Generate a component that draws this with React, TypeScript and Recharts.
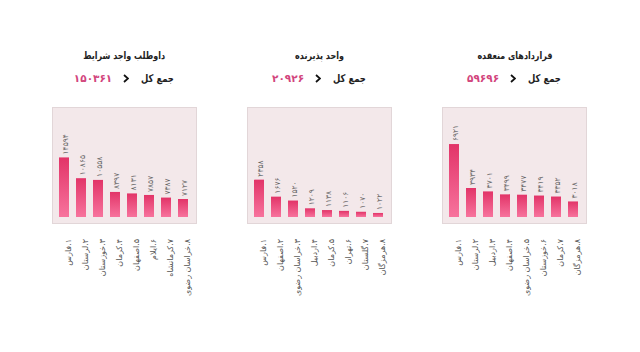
import React from 'react';
import { BarChart, Bar, XAxis, YAxis, LabelList } from 'recharts';

const contractCats = ['۱.فارس', '۲.لرستان', '۳.اردبیل', '۴.اصفهان', '۵.خراسان رضوی', '۶.خوزستان', '۷.کرمان', '۸.هرمزگان'];
const contractValues = [6921, 3934, 3701, 3499, 3477, 3419, 3352, 3018];

const hostCats = ['۱.فارس', '۲.اصفهان', '۳.خراسان رضوی', '۴.اردبیل', '۵.کرمان', '۶.تهران', '۷.گلستان', '۸.هرمزگان'];
const hostValues = [2358, 1676, 1520, 1209, 1138, 1106, 1070, 1022];

const applicantCats = ['۱.فارس', '۲.لرستان', '۳.خوزستان', '۴.کرمان', '۵.اصفهان', '۶.ایلام', '۷.کرمانشاه', '۸.خراسان رضوی'];
const applicantValues = [14594, 10865, 10558, 8397, 8131, 7857, 7387, 7127];

const titles = ['داوطلب واجد شرایط', 'واحد پذیرنده', 'قراردادهای منعقده'];
const totals = [150361, 20926, 59696];

const FONT = '"DejaVu Sans", sans-serif';

const fa = (n: number) => String(n).replace(/\d/g, (d) => '۰۱۲۳۴۵۶۷۸۹'[+d]);

const CatTick = (props: any) => {
  const { x, y, payload } = props;
  return (
    <text
      transform={`translate(${x + 5},${y + 20}) rotate(-90)`}
      direction="rtl"
      textAnchor="start"
      dominantBaseline="central"
      fontSize={8}
      fill="#555"
      fontFamily={FONT}
    >
      {payload.value}
    </text>
  );
};

const ValueLabel = (props: any) => {
  const { x, y, width, value } = props;
  return (
    <text
      transform={`translate(${x + width / 2 + 1},${y - 3}) rotate(-90)`}
      textAnchor="start"
      dominantBaseline="central"
      fontSize={7.5}
      fill="#666"
      fontFamily={FONT}
      letterSpacing={0.8}
    >
      {fa(value)}
    </text>
  );
};

const squeeze = { display: 'inline-block', transform: 'scaleX(0.8)' };

function Panel({ left, title, total, cats, values, domain, id }: any) {
  const data = cats.map((c: string, i: number) => ({ name: c, value: values[i] }));
  return (
    <div style={{ position: 'absolute', left, top: 0, width: 145, height: 352 }}>
      <div
        style={{
          position: 'absolute', left: -30, width: 205, top: 50, textAlign: 'center',
          fontFamily: FONT, fontWeight: 'bold', fontSize: 10, color: '#222', direction: 'rtl',
        }}
      >
        <span style={squeeze}>{title}</span>
      </div>
      <div
        style={{
          position: 'absolute', left: -30, width: 205, top: 72, display: 'flex', justifyContent: 'center',
          alignItems: 'center', gap: 11, direction: 'rtl', fontFamily: FONT, fontSize: 10.5, fontWeight: 'bold',
        }}
      >
        <span style={{ ...squeeze, color: '#222', margin: '0 -3px' }}>جمع کل</span>
        <svg width={6} height={9}>
          <path d="M1 1 L5 4.5 L1 8" stroke="#111" strokeWidth={1.8} fill="none" />
        </svg>
        <span style={{ color: '#d2457d', letterSpacing: 0.5 }}>{fa(total)}</span>
      </div>
      <div
        style={{
          position: 'absolute', left: 0, top: 107, width: 145, height: 117, boxSizing: 'border-box',
          background: '#f3e8ea', border: '1px solid #e2d6d8',
        }}
      />
      <div style={{ position: 'absolute', left: 0, top: 100 }}>
        <BarChart width={145} height={210} data={data} margin={{ top: 7, right: 6, bottom: 0, left: 3 }}>
          <defs>
            <linearGradient id={id} x1="0" y1="0" x2="0" y2="1">
              <stop offset="0%" stopColor="#e23468" />
              <stop offset="100%" stopColor="#f7739d" />
            </linearGradient>
          </defs>
          <XAxis dataKey="name" axisLine={false} tickLine={false} tickSize={0} interval={0} height={93} tick={<CatTick />} />
          <YAxis hide domain={domain} allowDataOverflow />
          <Bar dataKey="value" fill={`url(#${id})`} barSize={10} isAnimationActive={false}>
            <LabelList dataKey="value" content={<ValueLabel />} />
          </Bar>
        </BarChart>
      </div>
    </div>
  );
}

export default function App() {
  return (
    <div style={{ position: 'absolute', left: 0, top: 0, width: 640, height: 352, background: '#fff' }}>
      <Panel left={52} title={titles[0]} total={totals[0]} cats={applicantCats} values={applicantValues} domain={[3900, 23640]} id="g1" />
      <Panel left={247} title={titles[1]} total={totals[1]} cats={hostCats} values={hostValues} domain={[860, 5270]} id="g2" />
      <Panel left={442} title={titles[2]} total={totals[2]} cats={contractCats} values={contractValues} domain={[1960, 9440]} id="g3" />
    </div>
  );
}
